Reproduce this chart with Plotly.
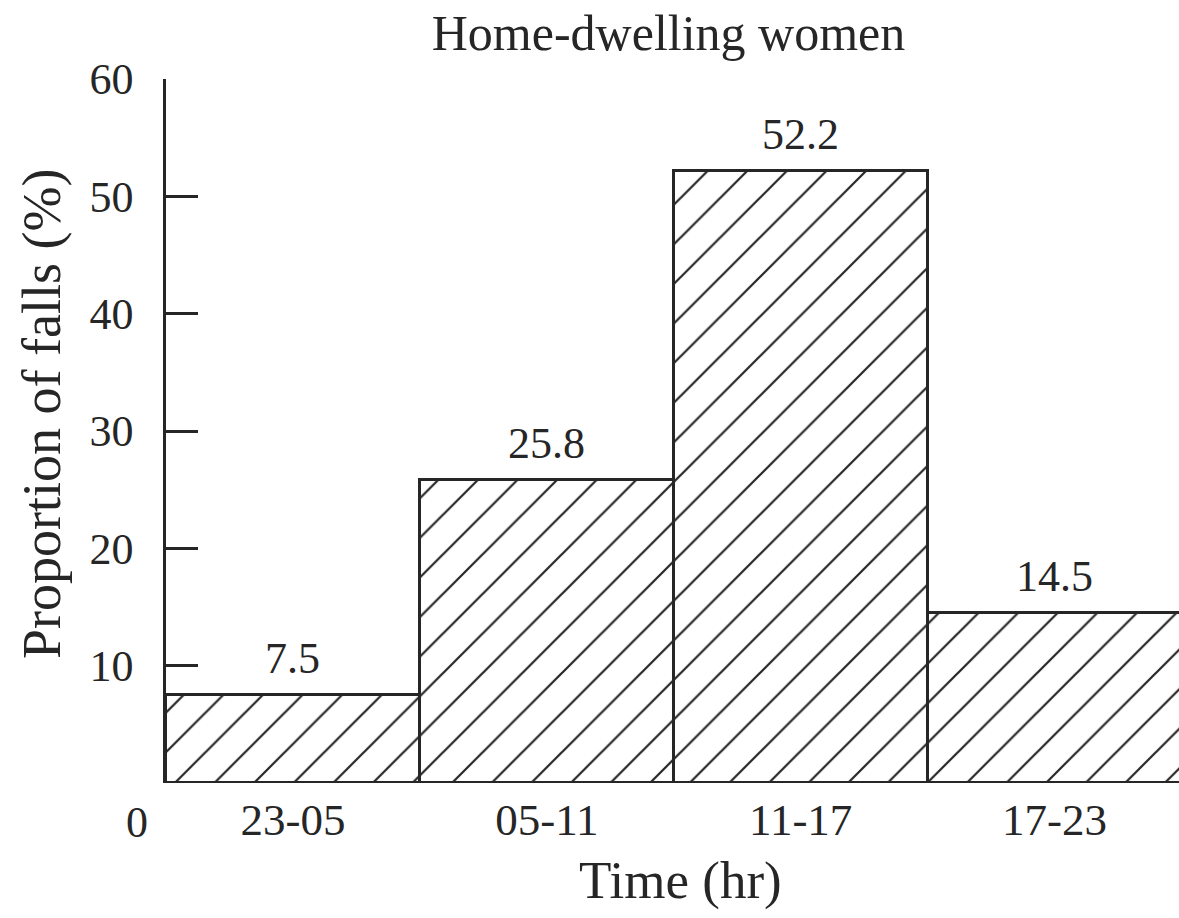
import plotly.graph_objects as go

categories = ["23-05", "05-11", "11-17", "17-23"]
values = [7.5, 25.8, 52.2, 14.5]
value_labels = ["7.5", "25.8", "52.2", "14.5"]
y_ticks = [10, 20, 30, 40, 50, 60]

FONT = "Liberation Serif, Times New Roman, serif"
INK = "#262626"
L = 166

fig = go.Figure()
fig.add_trace(go.Bar(
    x=list(range(len(categories))),
    y=values,
    width=1.0,
    marker=dict(
        color="white",
        line=dict(color=INK, width=3),
        pattern=dict(shape="/", fgcolor=INK, bgcolor="white", size=28, solidity=0.08, fillmode="replace"),
    ),
    showlegend=False,
    hoverinfo="skip",
))

for i, (v, lab) in enumerate(zip(values, value_labels)):
    fig.add_annotation(x=i, y=v, xref="x", yref="y", text=lab, showarrow=False,
                       xanchor="center", yanchor="bottom", yshift=10,
                       font=dict(family=FONT, size=44, color=INK))

fig.update_layout(
    width=1179, height=918,
    paper_bgcolor="white", plot_bgcolor="white",
    margin=dict(l=L, r=0, t=79, b=135),
    font=dict(family=FONT, color=INK),
    title=dict(text="Home-dwelling women", xref="container", yref="container",
               x=0.567, xanchor="center", y=0.965, yanchor="middle",
               font=dict(family=FONT, size=50, color=INK)),
    bargap=0,
    xaxis=dict(
        range=[-0.5, 3.49],
        tickmode="array",
        tickvals=list(range(len(categories))),
        ticktext=categories,
        showline=False, showgrid=False, zeroline=False, ticks="",
        tickfont=dict(family=FONT, size=45, color=INK),
        ticklabelstandoff=6,
    ),
    yaxis=dict(
        range=[0, 60],
        tickmode="array",
        tickvals=y_ticks,
        ticktext=[str(v) for v in y_ticks],
        showline=True, linecolor=INK, linewidth=2.5,
        ticks="inside", ticklen=32, tickwidth=2.5, tickcolor=INK,
        showgrid=False, zeroline=False,
        tickfont=dict(family=FONT, size=44, color=INK),
        ticklabelstandoff=21,
    ),
)

W = 1179 - L
fig.add_annotation(text="0", xref="paper", yref="paper", x=(137 - L) / W, y=-0.0554,
                   xanchor="center", yanchor="middle", showarrow=False,
                   font=dict(family=FONT, size=44, color=INK))
fig.add_annotation(text="Time (hr)", xref="paper", yref="paper", x=(680 - L) / W, y=-(880 - 783) / 704,
                   xanchor="center", yanchor="middle", showarrow=False,
                   font=dict(family=FONT, size=53, color=INK))
fig.add_annotation(text="Proportion of falls (%)", xref="paper", yref="paper", x=(42 - L) / W, y=(783 - 414) / 704,
                   xanchor="center", yanchor="middle", showarrow=False, textangle=-90,
                   font=dict(family=FONT, size=54, color=INK))

fig.write_html("out.html", config={"displayModeBar": False},
               post_script="document.body.style.margin='0';document.body.style.overflow='hidden';")
